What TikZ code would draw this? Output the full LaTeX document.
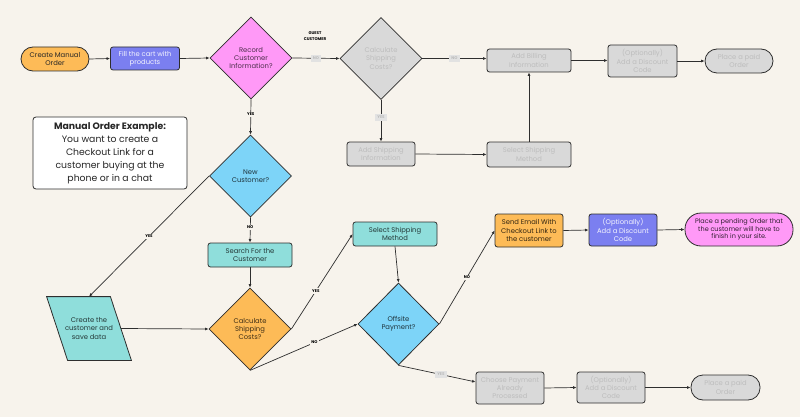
\documentclass[tikz,border=0pt]{standalone}
\usepackage{fontspec}
\setmainfont{Poppins}
\usetikzlibrary{shapes.geometric,arrows.meta,backgrounds}
\definecolor{bg}{HTML}{F7F3EC}
\definecolor{ln}{HTML}{2E2E2E}
\definecolor{cor}{HTML}{FDBB57}
\definecolor{cpu}{HTML}{7B7FF0}
\definecolor{cpk}{HTML}{FF99F7}
\definecolor{cbl}{HTML}{7DD4F8}
\definecolor{ctl}{HTML}{8FDEDB}
\definecolor{cgr}{HTML}{D9D9D9}
\definecolor{tgr}{HTML}{BDBDBD}
\definecolor{lgr}{HTML}{E2E2E2}
\tikzset{
  nd/.style={draw=ln, line width=0.8pt, align=center, inner sep=0pt,
    font=\fontsize{6.8}{8.3}\selectfont},
  proc/.style={nd, rectangle, rounded corners=2.5pt},
  term/.style={nd, rectangle, rounded corners=12pt},
  dia/.style={nd, diamond, aspect=1, minimum width=82pt, minimum height=82pt},
  gray/.style={fill=cgr, text=tgr},
  arr/.style={draw=ln, line width=0.7pt, -{Latex[length=3.5pt,width=3pt]}},
  lab/.style={fill=bg, inner sep=1.2pt, text=black, font=\fontsize{4}{4.5}\selectfont\bfseries},
  glab/.style={fill=lgr, inner sep=2pt, text=tgr, font=\fontsize{4}{4.5}\selectfont\bfseries},
}
\begin{document}
\begin{tikzpicture}[x=1pt,y=-1pt]
\begin{scope}[on background layer]
\path[fill=bg] (0,0) rectangle (800,417);
\end{scope}
% top row
\node[term, fill=cor, text=black!85, minimum width=68pt, minimum height=24pt] (cmo) at (55,59) {Create Manual\\Order};
\node[proc, fill=cpu, text=white!92!cpu, minimum width=69pt, minimum height=23pt] (fill) at (145,58.5) {Fill the cart with\\products};
\node[dia, fill=cpk, text=black!70!cpk, font=\fontsize{6.8}{7.8}\selectfont] (rec) at (251,58) {Record\\Customer\\Information?};
\node[font=\fontsize{4}{6}\selectfont\bfseries, align=center, inner sep=0pt] (guest) at (315,36) {GUEST\\CUSTOMER};
\node[dia, gray] (gcalc) at (381,58.5) {Calculate\\Shipping\\Costs?};
\node[proc, gray, minimum width=84pt, minimum height=23pt] (bill) at (529,60.5) {Add Billing\\Information};
\node[proc, gray, minimum width=69pt, minimum height=32pt] (gdisc) at (642.5,61) {(Optionally)\\Add a Discount\\Code};
\node[term, gray, minimum width=68pt, minimum height=24pt] (gpaid) at (739,61) {Place a paid\\Order};
\node[proc, gray, minimum width=68pt, minimum height=24pt] (addship) at (381,154) {Add Shipping\\Information};
\node[proc, gray, minimum width=84pt, minimum height=25pt] (gsel) at (529,154.5) {Select Shipping\\Method};
% example box
\node[draw=ln, line width=0.8pt, fill=white, rounded corners=3pt, minimum width=154pt, minimum height=72pt, align=center, inner sep=0pt, font=\fontsize{9.3}{13}\selectfont, text=black!85] (ex) at (110,153) {\textbf{Manual Order Example:}\\You want to create a\\Checkout Link for a\\customer buying at the\\phone or in a chat};
% middle
\node[dia, fill=cbl, text=black!75!cbl] (newc) at (250.5,176) {New\\Customer?};
\node[proc, fill=ctl, text=black!75!ctl, minimum width=84pt, minimum height=24pt] (search) at (250,255) {Search For the\\Customer};
\node[nd, draw=none, rectangle, text=black!75!ctl, minimum width=63pt, minimum height=63pt] (create) at (89,328.5) {Create the\\customer and\\save data};
\begin{scope}[on background layer]
\draw[draw=ln, line width=0.8pt, fill=ctl] ([xshift=-10.5pt]create.north west) -- ([xshift=-10.5pt]create.north east) -- ([xshift=10.5pt]create.south east) -- ([xshift=10.5pt]create.south west) -- cycle;
\end{scope}
\node[dia, fill=cor, text=black!75!cor] (ocalc) at (250,329) {Calculate\\Shipping\\Costs?};
\node[proc, fill=ctl, text=black!75!ctl, minimum width=84pt, minimum height=24pt] (tsel) at (395,234) {Select Shipping\\Method};
\node[dia, fill=cbl, text=black!75!cbl, minimum width=81pt] (off) at (398.5,324) {Offsite\\Payment?};
\node[proc, fill=cor, text=black!80!cor, minimum width=68pt, minimum height=33pt] (email) at (529,230.5) {Send Email With\\Checkout Link to\\the customer};
\node[proc, fill=cpu, text=white!92!cpu, minimum width=68pt, minimum height=32pt] (bdisc) at (623,230) {(Optionally)\\Add a Discount\\Code};
\node[term, fill=cpk, text=black!80!cpk, rounded corners=16pt, minimum width=108pt, minimum height=33pt, font=\fontsize{6.5}{7.6}\selectfont] (pend) at (739,229.5) {Place a pending Order that\\the customer will have to\\finish in your site.};
\node[proc, gray, minimum width=68pt, minimum height=32pt] (choose) at (510,388) {Choose Payment\\Already\\Processed};
\node[proc, gray, minimum width=68pt, minimum height=31pt] (odisc) at (611,387.5) {(Optionally)\\Add a Discount\\Code};
\node[term, gray, minimum width=69pt, minimum height=25pt] (opaid) at (725.5,387.5) {Place a paid\\Order};
% connectors
\draw[arr] (cmo.east) -- (fill.west);
\draw[arr] (fill.east) -- (rec.west);
\draw[arr] (rec.east) -- node[glab]{NO} (gcalc.west);
\draw[arr] (gcalc.east) -- node[glab]{NO} (gcalc.east -| bill.west);
\draw[arr] (gcalc.south) -- node[glab, pos=0.42]{YES} (addship.north);
\draw[arr] (addship.east) -- (gsel.west);
\draw[arr] (gsel.north) -- (bill.south);
\draw[arr] (bill.east) -- (bill.east -| gdisc.west);
\draw[arr] (gdisc.east) -- (gpaid.west);
\draw[arr] (rec.south) -- node[lab, pos=0.42]{YES} (newc.north);
\draw[arr] (newc.south) -- node[lab, pos=0.4]{NO} (search.north);
\draw[arr] (newc.west) -- node[lab]{YES} (create.north);
\draw[arr] (search.south) -- (ocalc.north);
\draw[arr] (create.east) -- (ocalc.west);
\draw[arr] (ocalc.east) -- node[lab, pos=0.4]{YES} (tsel.west);
\draw[arr] (ocalc.south) -- node[lab, pos=0.6]{NO} (off.west);
\draw[arr] (tsel.south) -- (off.north);
\draw[arr] (off.east) -- node[lab]{NO} (email.west);
\draw[arr] (email.east) -- (bdisc.west);
\draw[arr] (bdisc.east) -- (pend.west);
\draw[arr] (off.south) -- node[glab, pos=0.55]{YES} (choose.170);
\draw[arr] (choose.east) -- (odisc.west);
\draw[arr] (odisc.east) -- (opaid.west);
\end{tikzpicture}
\end{document}
